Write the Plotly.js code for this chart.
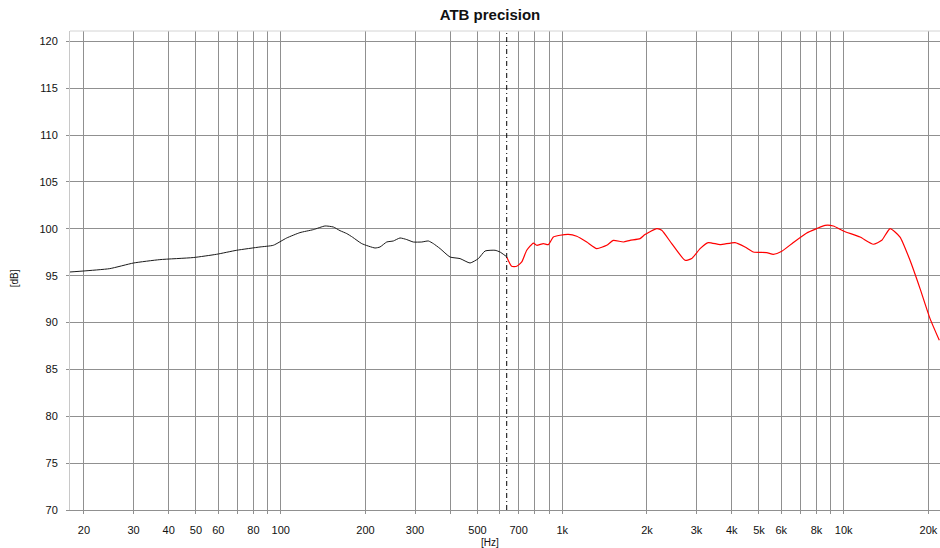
<!DOCTYPE html>
<html>
<head>
<meta charset="utf-8">
<script src="https://cdn.plot.ly/plotly-3.0.1.min.js"></script>
<style>html,body{margin:0;padding:0;background:#fff;}#chart{width:940px;height:548px;}</style>
</head>
<body>
<div id="chart"></div>
<script>
// Woofer (black) response
const wooferFreq = [17.8, 20, 24.7, 30, 37.2, 48.9, 59.2, 69.8, 84.4, 94.1, 105, 117, 130.6, 143.7, 153.8, 162.4, 171.6, 180, 194, 216.3, 225.3, 238, 251.2, 265.3, 280.3, 295.8, 316.9, 334.5, 348.5, 368.1, 399.4, 433.5, 470.5, 503.6, 531.9, 577.3, 601.2, 631.6];
const wooferDb = [95.39, 95.5, 95.75, 96.35, 96.71, 96.93, 97.28, 97.71, 98.06, 98.24, 99.02, 99.59, 99.91, 100.3, 100.19, 99.8, 99.49, 99.1, 98.42, 97.95, 98.06, 98.59, 98.7, 99.02, 98.85, 98.59, 98.59, 98.7, 98.42, 97.89, 96.99, 96.82, 96.35, 96.82, 97.63, 97.71, 97.52, 97.07];

// Tweeter (red) response
const tweeterFreq = [634.8, 661.6, 689.3, 718.1, 748.1, 789.5, 811.8, 856.9, 892.6, 929.8, 982.2, 1051, 1126, 1222, 1326, 1439, 1519, 1649, 1741, 1890, 1968, 2166, 2257, 2449, 2731, 2884, 3088, 3304, 3636, 4111, 4460, 4775, 5328, 5623, 6024, 6622, 7390, 8020, 8583, 9187, 9968, 11430, 12740, 13650, 14610, 15850, 17200, 18670, 20260, 21860];
const tweeterDb = [96.99, 96.0, 96.0, 96.46, 97.71, 98.48, 98.24, 98.42, 98.31, 99.12, 99.31, 99.41, 99.2, 98.59, 97.89, 98.24, 98.77, 98.59, 98.77, 98.95, 99.38, 100.02, 99.84, 98.42, 96.64, 96.82, 97.89, 98.53, 98.31, 98.53, 98.06, 97.52, 97.46, 97.28, 97.6, 98.53, 99.55, 100.02, 100.37, 100.3, 99.77, 99.12, 98.35, 98.77, 100.02, 99.12, 96.64, 93.62, 90.42, 88.1];

const crossoverFreq = 635;

const xLabelVals = [20, 30, 40, 50, 60, 80, 100, 200, 300, 500, 700, 1000, 2000, 3000, 4000, 5000, 6000, 8000, 10000, 20000];
const xLabelText = ['20', '30', '40', '50', '60', '80', '100', '200', '300', '500', '700', '1k', '2k', '3k', '4k', '5k', '6k', '8k', '10k', '20k'];
const xUnlabeledGrid = [70, 90, 400, 600, 800, 900, 7000, 9000];
const yTickVals = [70, 75, 80, 85, 90, 95, 100, 105, 110, 115, 120];

const gridCol = '#909090';
const font = 'Arial, "Liberation Sans", sans-serif';

const traces = [
  {x: wooferFreq, y: wooferDb, type: 'scatter', mode: 'lines', line: {color: '#1a1a1a', width: 1, shape: 'spline', smoothing: 0.5}, hoverinfo: 'skip'},
  {x: tweeterFreq, y: tweeterDb, type: 'scatter', mode: 'lines', line: {color: '#ff0000', width: 1.2, shape: 'spline', smoothing: 0.5}, hoverinfo: 'skip'}
];

const layout = {
  width: 940, height: 548,
  margin: {l: 70, r: 0, t: 31, b: 38, pad: 0},
  paper_bgcolor: '#ffffff', plot_bgcolor: '#ffffff',
  showlegend: false,
  font: {family: font, size: 11, color: '#111'},
  title: {text: '<b>ATB precision</b>', font: {family: font, size: 15, color: '#111'},
          x: 490/940, xref: 'container', xanchor: 'center', y: 1 - 15/548, yref: 'container', yanchor: 'middle'},
  xaxis: {
    type: 'log', range: [Math.log10(17.84), Math.log10(21980)],
    tickmode: 'array', tickvals: xLabelVals, ticktext: xLabelText,
    showgrid: true, gridcolor: gridCol, gridwidth: 1,
    ticks: 'outside', ticklen: 3, tickcolor: gridCol, ticklabelstandoff: 7,
    minor: {tickmode: 'array', tickvals: xUnlabeledGrid, showgrid: true, gridcolor: gridCol, gridwidth: 1, ticks: 'outside', ticklen: 3, tickcolor: gridCol},
    showline: true, linecolor: gridCol, linewidth: 1,
    zeroline: false, tickfont: {family: font, size: 11, color: '#111'}
  },
  yaxis: {
    range: [70, 121.1],
    tickmode: 'array', tickvals: yTickVals,
    showgrid: true, gridcolor: gridCol, gridwidth: 1,
    ticks: 'outside', ticklen: 3, tickcolor: gridCol, ticklabelstandoff: 6,
    showline: true, linecolor: '#c8c8c8', linewidth: 1,
    zeroline: false, tickfont: {family: font, size: 11, color: '#111'}
  },
  shapes: [
    {type: 'line', xref: 'paper', yref: 'paper', x0: 0, x1: 1, y0: 1, y1: 1, line: {color: '#d4d4d4', width: 1}},
    {type: 'line', xref: 'x', yref: 'paper', x0: crossoverFreq, x1: crossoverFreq, y0: 0, y1: 1, line: {color: '#000', width: 1, dash: '5px,3px,1px,3px'}}
  ],
  annotations: [
    {text: '[Hz]', xref: 'paper', yref: 'paper', x: (490-70)/870, y: (509.7-542.5)/479, showarrow: false, xanchor: 'center', yanchor: 'middle', font: {family: font, size: 10, color: '#111'}},
    {text: '[dB]', xref: 'paper', yref: 'paper', x: (14-70)/870, y: (509.7-278)/479, showarrow: false, textangle: -90, xanchor: 'center', yanchor: 'middle', font: {family: font, size: 10, color: '#111'}}
  ]
};

Plotly.newPlot('chart', traces, layout, {staticPlot: true, displayModeBar: false});
</script>
</body>
</html>
